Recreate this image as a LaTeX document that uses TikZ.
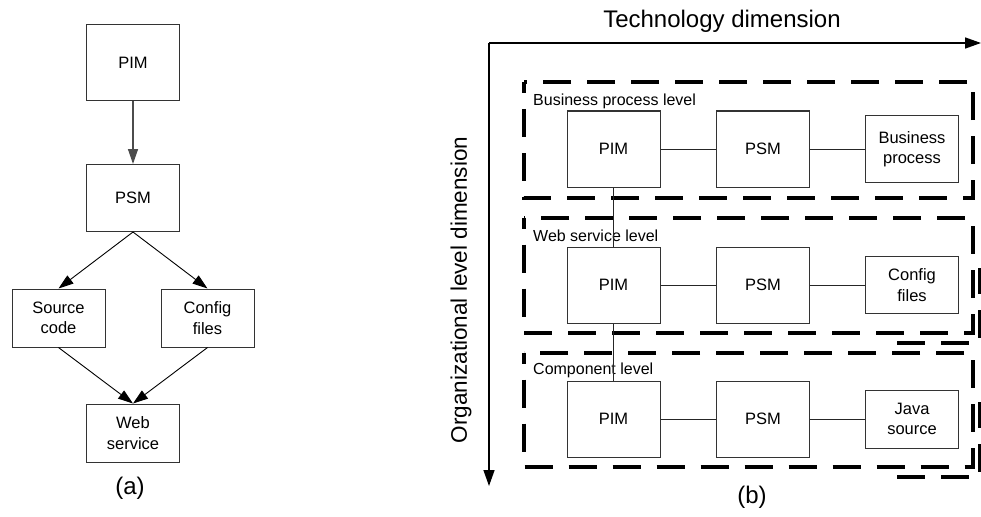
\documentclass[tikz,border=0pt]{standalone}
\usepackage{fontspec}
\setmainfont{Liberation Sans}
\usetikzlibrary{arrows.meta,positioning}

\tikzset{
  boite/.style={draw=black!80, line width=1pt, fill=white, align=center, inner sep=0pt,
    minimum width=93pt, font=\fontsize{16.5}{20.5}\selectfont},
  niveau/.style={draw=black, line width=4pt, dash pattern=on 28pt off 16pt, dash phase=17pt},
  lien/.style={draw=black!85, line width=1pt},
  axe/.style={draw=black, line width=1.4pt, -{Triangle[length=16pt,width=11pt]}},
  titre/.style={inner sep=0pt, font=\fontsize{16}{19}\selectfont},
}

\begin{document}
\begin{tikzpicture}[x=1pt,y=-1pt,>={Triangle[length=15pt,width=10pt]}]

    % Cadre de la figure
    \useasboundingbox (0,0) rectangle (981,516);

    % (a) : chaine de transformation PIM -> PSM -> code
    \node[boite, minimum height=76pt] (pimA) at (133,63) {PIM};
    \node[boite, minimum height=67pt] (psmA) at (133,198) {PSM};
    \node[boite, minimum height=58pt] (srcA) at (58.5,318) {Source\\code};
    \node[boite, minimum height=58pt] (cfgA) at (207.5,318) {Config\\files};
    \node[boite, minimum height=58pt] (webA) at (133,433) {Web\\service};
    \node[font=\fontsize{24}{28}\selectfont] (legA) at (130,488) {(a)};

    \draw[->, black!70, line width=1.4pt] (pimA) -- (psmA);
    \draw[->, line width=0.9pt] (psmA.south) -- (srcA.north);
    \draw[->, line width=0.9pt] (psmA.south) -- (cfgA.north);
    \draw[->, line width=0.9pt] (srcA.south) -- (webA.north);
    \draw[->, line width=0.9pt] (cfgA.south) -- (webA.north);

    % (b) : les deux dimensions
    \coordinate (origine) at (489,43);
    \coordinate (finTech) at (981,43);
    \coordinate (finOrg) at (489,486);
    \draw[axe] (origine) -- (finTech);
    \draw[axe] (origine) -- (finOrg);
    \node[font=\fontsize{24}{28}\selectfont] (techno) at (722,21) {Technology dimension};
    \node[font=\fontsize{22.5}{26}\selectfont, rotate=90] (orga) at (461,290) {Organizational level dimension};
    \node[font=\fontsize{24}{28}\selectfont] (legB) at (752,497) {(b)};

    % Les trois niveaux (cadres en tirets)
    \draw[niveau] (524,82) rectangle (973,198);
    \draw[niveau] (524,217.5) rectangle (973,332.5);
    \draw[niveau] (524,352.5) rectangle (973,467);

    % Ombres des cadres du bas
    \draw[niveau, dash phase=0pt] (897,342.5) -- (980,342.5) -- (980,268);
    \draw[niveau, dash phase=0pt] (897,476.5) -- (980,476.5) -- (980,402);

    \node[titre, anchor=west] (nivBP) at (533,101) {Business process level};
    \node[titre, anchor=west] (nivWS) at (533,235.5) {Web service level};
    \node[titre, anchor=west] (nivCO) at (533,370) {Component level};

    % Modeles de chaque niveau
    \node[boite, minimum height=76pt] (pim1) at (613.5,149) {PIM};
    \node[boite, minimum height=76pt] (psm1) at (763,149) {PSM};
    \node[boite, minimum height=67pt] (bp1) at (912,149) {Business\\process};

    \node[boite, minimum height=76pt] (pim2) at (613.5,285) {PIM};
    \node[boite, minimum height=76pt] (psm2) at (763,285) {PSM};
    \node[boite, minimum height=57pt] (cfg2) at (912,285) {Config\\files};

    \node[boite, minimum height=76pt] (pim3) at (613.5,419) {PIM};
    \node[boite, minimum height=76pt] (psm3) at (763,419) {PSM};
    \node[boite, minimum height=58pt] (jav3) at (912,419) {Java\\source};

    % Liens entre les modeles
    \draw[lien] (pim1) -- (psm1);
    \draw[lien] (psm1) -- (bp1);
    \draw[lien] (pim2) -- (psm2);
    \draw[lien] (psm2) -- (cfg2);
    \draw[lien] (pim3) -- (psm3);
    \draw[lien] (psm3) -- (jav3);
    \draw[lien] (pim1) -- (pim2);
    \draw[lien] (pim2) -- (pim3);
  \end{tikzpicture}
\end{document}
